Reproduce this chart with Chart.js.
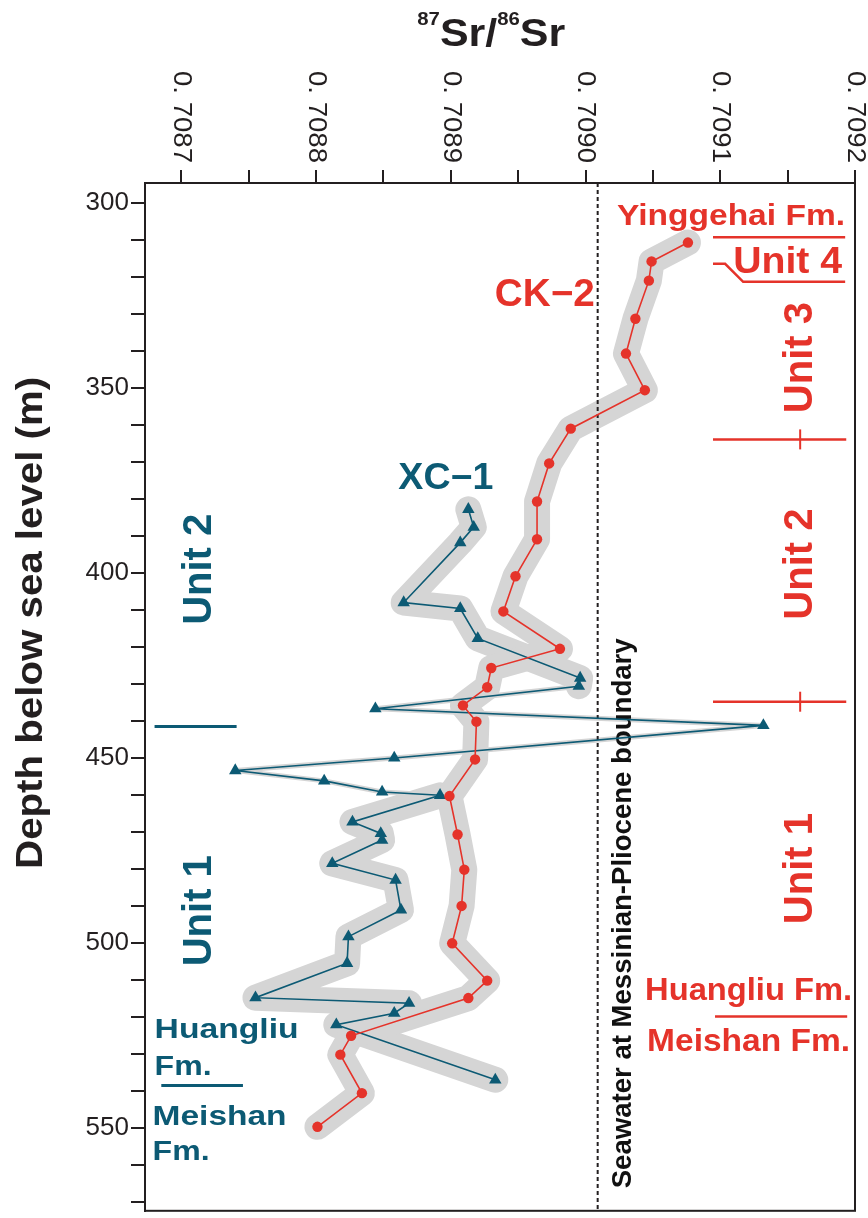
<!DOCTYPE html>
<html>
<head>
<meta charset="utf-8">
<script src="https://cdn.jsdelivr.net/npm/chart.js@4.4.1/dist/chart.umd.min.js"></script>
<style>
  html, body { margin: 0; padding: 0; background: #fff; }
  #wrap { width: 868px; height: 1218px; }
</style>
</head>
<body>
<div id="wrap"><canvas id="srChart" width="868" height="1218"></canvas></div>
<script>
// CK-2 well: depth below sea level (m) and 87Sr/86Sr
const ck2Depth = [310.7, 315.8, 321.0, 331.3, 340.7, 350.6, 361.0, 370.4, 380.7, 390.9,
                  400.9, 410.4, 420.5, 425.7, 430.9, 435.8, 440.2, 450.4, 460.3, 470.7,
                  480.2, 490.0, 500.1, 510.2, 514.9, 525.1, 530.2, 540.6, 549.7];
const ck2Ratio = [0.709076, 0.709049, 0.709047, 0.709037, 0.709030, 0.709044, 0.708989, 0.708973, 0.708964, 0.708964,
                  0.708948, 0.708939, 0.708981, 0.708930, 0.708927, 0.708909, 0.708919, 0.708918, 0.708899, 0.708905,
                  0.708910, 0.708908, 0.708901, 0.708927, 0.708913, 0.708826, 0.708818, 0.708834, 0.708801];

// XC-1 well
const xc1Depth = [382.8, 387.6, 391.8, 408.0, 409.6, 417.7, 428.4, 430.6, 436.7, 441.2,
                  450.0, 453.4, 456.2, 459.2, 460.1, 467.3, 470.4, 472.2, 478.5, 483.0,
                  491.1, 498.3, 505.5, 514.8, 516.3, 519.0, 522.1, 537.0];
const xc1Ratio = [0.708913, 0.708917, 0.708907, 0.708865, 0.708907, 0.708920, 0.708996, 0.708995, 0.708844, 0.709132,
                  0.708858, 0.708740, 0.708806, 0.708849, 0.708892, 0.708827, 0.708848, 0.708849, 0.708812, 0.708859,
                  0.708863, 0.708824, 0.708823, 0.708755, 0.708869, 0.708858, 0.708815, 0.708933];

const seawaterRatio = 0.709009; // Messinian-Pliocene boundary seawater

// axis ticks
const ratioMajor = [0.7087, 0.7088, 0.7089, 0.7090, 0.7091, 0.7092];
const ratioLabels = ['0. 7087', '0. 7088', '0. 7089', '0. 7090', '0. 7091', '0. 7092'];
const ratioMinor = [0.70875, 0.70885, 0.70895, 0.70905, 0.70915];
const depthMajor = [300, 350, 400, 450, 500, 550];
const depthMinor = [310, 320, 330, 340, 360, 370, 380, 390, 410, 420, 430, 440,
                    460, 470, 480, 490, 510, 520, 530, 540, 560, 570];

const RED = '#e5332a';
const TEAL = '#0c5a74';
const INK = '#231f20';
const BAND = '#d5d5d5';
const FONT = "'Liberation Sans', Arial, Helvetica, sans-serif";

const toPoints = (ratios, depths) => ratios.map((r, i) => ({ x: r, y: depths[i] }));

// text helper: optional rotation, horizontal stretch to a target length, letter spacing
function putText(ctx, text, x, y, o) {
    ctx.save();
    ctx.font = (o.bold ? 'bold ' : '') + o.size + 'px ' + FONT;
    ctx.fillStyle = o.color || INK;
    ctx.textBaseline = o.baseline || 'alphabetic';
    ctx.textAlign = o.align || 'center';
    if (o.ls && 'letterSpacing' in ctx) ctx.letterSpacing = o.ls + 'px';
    ctx.translate(x, y);
    if (o.rotate) ctx.rotate(o.rotate);
    if (o.width) ctx.scale(o.width / ctx.measureText(text).width, 1);
    ctx.fillText(text, 0, 0);
    ctx.restore();
}

function putRich(ctx, parts, cx, base, width) {
    ctx.save();
    let total = 0;
    parts.forEach(p => { ctx.font = p.font; p.w = ctx.measureText(p.t).width; total += p.w; });
    ctx.translate(cx - width / 2, base);
    ctx.scale(width / total, 1);
    ctx.fillStyle = INK;
    ctx.textAlign = 'left';
    ctx.textBaseline = 'alphabetic';
    let x0 = 0;
    parts.forEach(p => { ctx.font = p.font; ctx.fillText(p.t, x0, p.dy || 0); x0 += p.w; });
    ctx.restore();
}

function rule(chart, color, width, pts) {
    const { ctx, scales: { x, y } } = chart;
    ctx.save();
    ctx.strokeStyle = color;
    ctx.lineWidth = width;
    ctx.beginPath();
    pts.forEach(([v, d], i) => {
        const X = x.getPixelForValue(v), Y = y.getPixelForValue(d);
        i ? ctx.lineTo(X, Y) : ctx.moveTo(X, Y);
    });
    ctx.stroke();
    ctx.restore();
}

const decor = {
    id: 'decor',
    beforeDatasetDraw(chart, args) {
        if (args.index !== 1) return; // right after both grey bands
        const { ctx, chartArea, scales: { x, y } } = chart;
        const sx = x.getPixelForValue(seawaterRatio);
        ctx.save();
        ctx.strokeStyle = INK;
        ctx.lineWidth = 2;
        ctx.setLineDash([4, 3]);
        ctx.beginPath();
        ctx.moveTo(sx, chartArea.top);
        ctx.lineTo(sx, chartArea.bottom);
        ctx.stroke();
        ctx.restore();
        putText(ctx, 'Seawater at Messinian-Pliocene boundary', x.getPixelForValue(0.7090278), y.getPixelForValue(492.0),
            { bold: true, size: 28, rotate: -Math.PI / 2, baseline: 'middle', width: 550, color: '#111' });
    },
    afterDraw(chart) {
        const { ctx, chartArea, scales: { x, y } } = chart;
        const X = v => x.getPixelForValue(v), Y = d => y.getPixelForValue(d);

        // frame
        ctx.save();
        ctx.strokeStyle = INK;
        ctx.lineWidth = 2;
        ctx.strokeRect(chartArea.left, chartArea.top, chartArea.right - chartArea.left, chartArea.bottom - chartArea.top);
        ctx.restore();

        // top tick labels, rotated clockwise
        ratioMajor.forEach((v, i) => {
            putText(ctx, ratioLabels[i], X(v), chartArea.top - 20,
                { size: 26, rotate: Math.PI / 2, align: 'right', baseline: 'middle', width: 92 });
        });

        // axis titles
        putRich(ctx, [
            { t: '87', font: 'bold 18px ' + FONT, dy: -21 },
            { t: 'Sr', font: 'bold 38px ' + FONT },
            { t: '/', font: 'bold 38px ' + FONT },
            { t: '86', font: 'bold 18px ' + FONT, dy: -21 },
            { t: 'Sr', font: 'bold 38px ' + FONT }
        ], X(0.70893), chartArea.top - 137, 148);
        putText(ctx, 'Depth below sea level (m)', chartArea.left - 103, Y(413.5),
            { bold: true, size: 37, rotate: -Math.PI / 2, width: 492 });

        // CK-2 column (right)
        const rc = { bold: true, color: RED };
        putText(ctx, 'Yinggehai Fm.', X(0.709108), Y(305.9), { ...rc, size: 30, width: 228 });
        rule(chart, RED, 2.5, [[0.7090946, 309.25], [0.7091927, 309.25]]);
        putText(ctx, 'Unit 4', X(0.70915), Y(318.9), { ...rc, size: 36, width: 109 });
        rule(chart, RED, 2.5, [[0.7090946, 316.45], [0.7091036, 316.45], [0.709117, 321.3], [0.7091927, 321.3]]);
        putText(ctx, 'Unit 3', X(0.709160), Y(341.8), { ...rc, size: 40, rotate: -Math.PI / 2, baseline: 'middle' });
        rule(chart, RED, 2.5, [[0.7090946, 363.9], [0.7091935, 363.9]]);
        rule(chart, RED, 2, [[0.7091593, 361.2], [0.7091593, 366.6]]);
        putText(ctx, 'Unit 2', X(0.709160), Y(397.6), { ...rc, size: 40, rotate: -Math.PI / 2, baseline: 'middle' });
        rule(chart, RED, 2.5, [[0.7090946, 434.8], [0.7091935, 434.8]]);
        rule(chart, RED, 2, [[0.7091593, 432.1], [0.7091593, 437.5]]);
        putText(ctx, 'Unit 1', X(0.709160), Y(479.9), { ...rc, size: 40, rotate: -Math.PI / 2, baseline: 'middle' });
        putText(ctx, 'Huangliu Fm.', X(0.709121), Y(515.4), { ...rc, size: 31, width: 207 });
        rule(chart, RED, 2.5, [[0.7090961, 519.9], [0.7091942, 519.9]]);
        putText(ctx, 'Meishan Fm.', X(0.709121), Y(529.2), { ...rc, size: 31, width: 203 });
        putText(ctx, 'CK\u22122', X(0.7089698), Y(327.8), { ...rc, size: 38, width: 100 });

        // XC-1 column (left)
        const tc = { bold: true, color: TEAL };
        putText(ctx, 'XC\u22121', X(0.7088963), Y(377.4), { ...tc, size: 36, width: 95 });
        putText(ctx, 'Unit 2', X(0.7087135), Y(399.0), { ...tc, size: 40, rotate: -Math.PI / 2, baseline: 'middle' });
        rule(chart, TEAL, 3, [[0.7086801, 441.5], [0.708741, 441.5]]);
        putText(ctx, 'Unit 1', X(0.7087135), Y(491.3), { ...tc, size: 40, rotate: -Math.PI / 2, baseline: 'middle' });
        putText(ctx, 'Huangliu', X(0.7086801), Y(525.7), { ...tc, size: 28, align: 'left', width: 144 });
        putText(ctx, 'Fm.', X(0.7086801), Y(535.6), { ...tc, size: 28, align: 'left', width: 57 });
        rule(chart, TEAL, 3, [[0.7086851, 538.5], [0.7087457, 538.5]]);
        putText(ctx, 'Meishan', X(0.7086786), Y(549.3), { ...tc, size: 28, align: 'left', width: 134 });
        putText(ctx, 'Fm.', X(0.7086786), Y(558.7), { ...tc, size: 28, align: 'left', width: 57 });
    }
};

const ctx = document.getElementById('srChart').getContext('2d');

new Chart(ctx, {
    type: 'scatter',
    data: {
        datasets: [
            { label: 'CK-2', data: toPoints(ck2Ratio, ck2Depth), showLine: true, order: 0,
              borderColor: RED, borderWidth: 1.6, pointStyle: 'circle', pointRadius: 5.2,
              pointBackgroundColor: RED, pointBorderColor: RED, pointBorderWidth: 0 },
            { label: 'XC-1', data: toPoints(xc1Ratio, xc1Depth), showLine: true, order: 1,
              borderColor: TEAL, borderWidth: 1.6, pointStyle: 'triangle', pointRadius: 7.2,
              pointBackgroundColor: TEAL, pointBorderColor: TEAL, pointBorderWidth: 0 },
            { label: 'CK-2 band', data: toPoints(ck2Ratio, ck2Depth), showLine: true, order: 5,
              borderColor: BAND, borderWidth: 26, borderJoinStyle: 'round', borderCapStyle: 'round', pointRadius: 0 },
            { label: 'XC-1 band', data: toPoints(xc1Ratio, xc1Depth), showLine: true, order: 5,
              borderColor: BAND, borderWidth: 26, borderJoinStyle: 'round', borderCapStyle: 'round', pointRadius: 0,
              segment: { borderWidth: c => (c.p0DataIndex >= 7 && c.p0DataIndex <= 13) ? 5 : 26 } }
        ]
    },
    options: {
        responsive: false,
        animation: false,
        devicePixelRatio: 1,
        layout: { padding: { top: 0, left: 0, right: 13, bottom: 5 } },
        plugins: { legend: { display: false }, tooltip: { enabled: false } },
        scales: {
            x: {
                type: 'linear',
                position: 'top',
                min: 0.708673,
                max: 0.7092,
                afterBuildTicks: s => { s.ticks = ratioMajor.concat(ratioMinor).sort().map(v => ({ value: v })); },
                afterFit: s => { s.height = 183; s.paddingLeft = 0; s.paddingRight = 0; },
                ticks: { display: false, autoSkip: false },
                grid: { drawOnChartArea: false, drawTicks: true, tickLength: 13, color: INK, lineWidth: 2 },
                border: { display: true, color: INK, width: 2 }
            },
            y: {
                type: 'linear',
                position: 'left',
                reverse: true,
                min: 294.6,
                max: 572.4,
                afterBuildTicks: s => { s.ticks = depthMajor.concat(depthMinor).sort((a, b) => a - b).map(v => ({ value: v })); },
                afterFit: s => { s.width = 145; s.paddingTop = 0; s.paddingBottom = 0; },
                ticks: {
                    autoSkip: false,
                    padding: 2,
                    color: INK,
                    font: { family: FONT, size: 26 },
                    callback: v => depthMajor.includes(v) ? String(v) : ''
                },
                grid: { drawOnChartArea: false, drawTicks: true, tickLength: 14, color: INK, lineWidth: 2 },
                border: { display: true, color: INK, width: 2 }
            }
        }
    },
    plugins: [decor]
});
</script>
</body>
</html>
